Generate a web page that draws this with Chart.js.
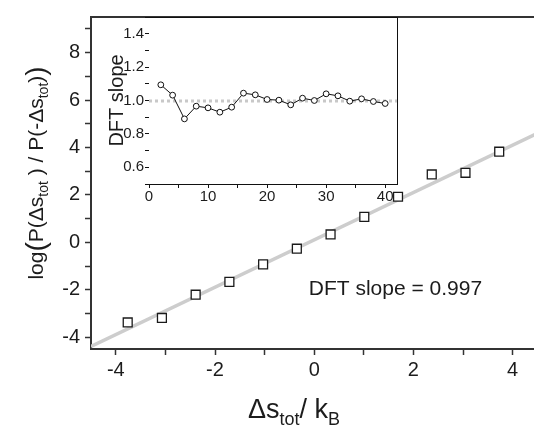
<!DOCTYPE html>
<html>
<head>
<meta charset="utf-8">
<script src="https://cdn.jsdelivr.net/npm/chart.js@4/dist/chart.umd.min.js"></script>
<style>
  html, body { margin: 0; padding: 0; background: #fff; overflow: hidden; width: 534px; height: 425px; }
  #wrap { position: relative; width: 534px; height: 425px; overflow: hidden; }
  #main { position: absolute; left: 0; top: 0; }
  #inset { position: absolute; left: 95px; top: 5px; }
</style>
</head>
<body>
<div id="wrap">
  <canvas id="main" width="545" height="425"></canvas>
  <canvas id="inset" width="310" height="205"></canvas>
</div>
<script>
// ---- data ----
const mainX = [-3.76, -3.07, -2.39, -1.71, -1.03, -0.35, 0.33, 1.01, 1.69, 2.37, 3.05, 3.73];
const mainY = [-3.38, -3.19, -2.21, -1.67, -0.93, -0.27, 0.33, 1.07, 1.92, 2.86, 2.93, 3.82];
const fitLineX = [-4.5, 4.5];
const fitLineY = [-4.39, 4.59];
const insetN = [2, 4, 6, 8, 10, 12, 14, 16, 18, 20, 22, 24, 26, 28, 30, 32, 34, 36, 38, 40];
const insetSlope = [1.094, 1.032, 0.89, 0.966, 0.956, 0.93, 0.96, 1.044, 1.034, 1.006, 1.002, 0.974, 1.014, 1.0, 1.04, 1.028, 0.996, 1.01, 0.994, 0.982];
const refLineX = [0, 42];
const refLineY = [0.997, 0.997];
const annotationText = 'DFT slope = 0.997';
// tick positions (labels shown on every second one)
const mainXTicks = [-4, -3, -2, -1, 0, 1, 2, 3, 4];
const mainYTicks = [-4, -3, -2, -1, 0, 1, 2, 3, 4, 5, 6, 7, 8, 9];
const insetXTicks = [0, 5, 10, 15, 20, 25, 30, 35, 40];
const insetYTicks = [0.5, 0.6, 0.7, 0.8, 0.9, 1.0, 1.1, 1.2, 1.3, 1.4, 1.5];

const FAMILY = '"Liberation Sans", Arial, Helvetica, sans-serif';
const TEXT = '#1c1c1c';
const AXIS = '#333333';

function drawRich(ctx, segs, cx, cy, rot) {
  ctx.save();
  ctx.translate(cx, cy);
  if (rot) ctx.rotate(rot);
  let total = 0;
  segs.forEach(s => {
    ctx.font = s.size + 'px ' + FAMILY;
    s.w = ctx.measureText(s.t).width;
    total += s.w + (s.gap || 0);
  });
  let x = -total / 2;
  ctx.textBaseline = 'alphabetic';
  ctx.textAlign = 'left';
  ctx.fillStyle = TEXT;
  segs.forEach(s => {
    ctx.font = s.size + 'px ' + FAMILY;
    ctx.fillText(s.t, x, s.dy || 0);
    x += s.w + (s.gap || 0);
  });
  ctx.restore();
}

// ---------------- main chart ----------------
const mainPlugin = {
  id: 'mainDecor',
  beforeDraw(chart) {
    const ctx = chart.ctx;
    ctx.save();
    ctx.fillStyle = '#fff';
    ctx.fillRect(0, 0, chart.width, chart.height);
    ctx.restore();
  },
  afterDraw(chart) {
    const ctx = chart.ctx;
    const a = chart.chartArea;
    ctx.save();
    ctx.strokeStyle = AXIS;
    ctx.lineWidth = 2;
    ctx.beginPath();
    ctx.moveTo(a.left - 1, a.top);
    ctx.lineTo(a.right, a.top);
    ctx.stroke();
    ctx.restore();
    const xs = chart.scales.x, ys = chart.scales.y;
    ctx.save();
    ctx.font = '21px ' + FAMILY;
    ctx.fillStyle = TEXT;
    ctx.textAlign = 'left';
    ctx.textBaseline = 'middle';
    ctx.fillText(annotationText, xs.getPixelForValue(-0.11), ys.getPixelForValue(-1.98));
    ctx.restore();
    drawRich(ctx, [
      { t: 'log', size: 21 },
      { t: '(', size: 28, dy: 2 },
      { t: 'P(', size: 21 },
      { t: '\u0394s', size: 21 },
      { t: 'tot', size: 14, dy: 5 },
      { t: ' ) / P(-\u0394s', size: 21 },
      { t: 'tot', size: 14, dy: 5 },
      { t: ')', size: 21 },
      { t: ')', size: 28, dy: 2 }
    ], 43, 173, -Math.PI / 2);
    drawRich(ctx, [
      { t: '\u0394s', size: 27 },
      { t: 'tot', size: 18, dy: 7 },
      { t: '/ k', size: 27 },
      { t: 'B', size: 18, dy: 7 }
    ], 294, 418, 0);
  }
};

new Chart(document.getElementById('main'), {
  type: 'scatter',
  data: {
    datasets: [
      {
        type: 'line',
        data: fitLineX.map((x, i) => ({ x: x, y: fitLineY[i] })),
        borderColor: '#cdcdcd',
        borderWidth: 3.5,
        pointRadius: 0,
        order: 2
      },
      {
        data: mainX.map((x, i) => ({ x: x, y: mainY[i] })),
        pointStyle: 'rect',
        pointRadius: 6.3,
        backgroundColor: '#ffffff',
        borderColor: '#1a1a1a',
        borderWidth: 1.3,
        order: 1
      }
    ]
  },
  options: {
    responsive: false,
    animation: false,
    events: [],
    plugins: { legend: { display: false }, tooltip: { enabled: false } },
    layout: { padding: { top: 10, right: 4, left: 0, bottom: 0 } },
    scales: {
      x: {
        type: 'linear', min: -4.5, max: 4.5, bounds: 'data',
        afterFit: s => { s.height = 76; },
        afterBuildTicks: s => { s.ticks = mainXTicks.map(v => ({ value: v })); },
        ticks: {
          autoSkip: false, maxRotation: 0,
          callback: v => (Math.round(v) % 2 === 0 ? String(Math.round(v)) : ''),
          color: TEXT, font: { size: 20, family: FAMILY }, padding: 3
        },
        grid: { drawOnChartArea: false, drawTicks: true, tickLength: 6, tickColor: AXIS, tickWidth: 1.5 },
        border: { display: true, color: AXIS, width: 2 }
      },
      y: {
        type: 'linear', min: -4.5, max: 9.5, bounds: 'data',
        afterFit: s => { s.width = 91; },
        afterBuildTicks: s => { s.ticks = mainYTicks.map(v => ({ value: v })); },
        ticks: {
          autoSkip: false,
          callback: v => (Math.round(v) % 2 === 0 ? String(Math.round(v)) : ''),
          color: TEXT, font: { size: 20, family: FAMILY }, padding: 5
        },
        grid: { drawOnChartArea: false, drawTicks: true, tickLength: 6, tickColor: AXIS, tickWidth: 1.5 },
        border: { display: true, color: AXIS, width: 2 }
      }
    }
  },
  plugins: [mainPlugin]
});

// ---------------- inset chart ----------------
const insetPlugin = {
  id: 'insetDecor',
  beforeDatasetsDraw(chart) {
    const ctx = chart.ctx, a = chart.chartArea;
    ctx.save();
    ctx.fillStyle = '#fff';
    ctx.fillRect(a.left, a.top, a.right - a.left, a.bottom - a.top);
    ctx.restore();
  },
  afterDraw(chart) {
    const ctx = chart.ctx, a = chart.chartArea;
    ctx.save();
    ctx.strokeStyle = '#111';
    ctx.lineWidth = 1;
    ctx.beginPath();
    ctx.moveTo(a.left, a.top + 0.5);
    ctx.lineTo(a.right + 0.5, a.top + 0.5);
    ctx.lineTo(a.right + 0.5, a.bottom);
    ctx.stroke();
    ctx.restore();
    drawRich(ctx, [{ t: 'DFT slope', size: 20 }], 28, (a.top + a.bottom) / 2, -Math.PI / 2);
  }
};

new Chart(document.getElementById('inset'), {
  type: 'scatter',
  data: {
    datasets: [
      {
        type: 'line',
        data: refLineX.map((x, i) => ({ x: x, y: refLineY[i] })),
        borderColor: '#c8c8c8',
        borderWidth: 3,
        borderDash: [3, 3],
        pointRadius: 0,
        order: 2
      },
      {
        type: 'line',
        data: insetN.map((x, i) => ({ x: x, y: insetSlope[i] })),
        borderColor: '#111',
        borderWidth: 1,
        tension: 0,
        pointRadius: 2.9,
        pointBackgroundColor: '#fff',
        pointBorderColor: '#111',
        pointBorderWidth: 1,
        order: 1
      }
    ]
  },
  options: {
    responsive: false,
    animation: false,
    events: [],
    plugins: { legend: { display: false }, tooltip: { enabled: false } },
    layout: { padding: { top: 12, right: 8, left: 0, bottom: 0 } },
    scales: {
      x: {
        type: 'linear', min: 0, max: 42, bounds: 'data',
        afterFit: s => { s.height = 26; },
        afterBuildTicks: s => { s.ticks = insetXTicks.map(v => ({ value: v })); },
        ticks: {
          autoSkip: false, maxRotation: 0,
          callback: v => (Math.round(v) % 10 === 0 ? String(Math.round(v)) : ''),
          color: TEXT, font: { size: 15, family: FAMILY }, padding: 0
        },
        grid: { drawOnChartArea: false, drawTicks: true, tickLength: 4, tickColor: '#111', tickWidth: 1 },
        border: { display: true, color: '#111', width: 1 }
      },
      y: {
        type: 'linear', min: 0.5, max: 1.5, bounds: 'data',
        afterFit: s => { s.width = 54; },
        afterBuildTicks: s => { s.ticks = insetYTicks.map(v => ({ value: v })); },
        ticks: {
          autoSkip: false,
          callback: v => (Math.round(v * 10) % 2 === 0 ? v.toFixed(1) : ''),
          color: TEXT, font: { size: 15, family: FAMILY }, padding: 1
        },
        grid: { drawOnChartArea: false, drawTicks: true, tickLength: 4, tickColor: '#111', tickWidth: 1 },
        border: { display: true, color: '#111', width: 1 }
      }
    }
  },
  plugins: [insetPlugin]
});
</script>
</body>
</html>
